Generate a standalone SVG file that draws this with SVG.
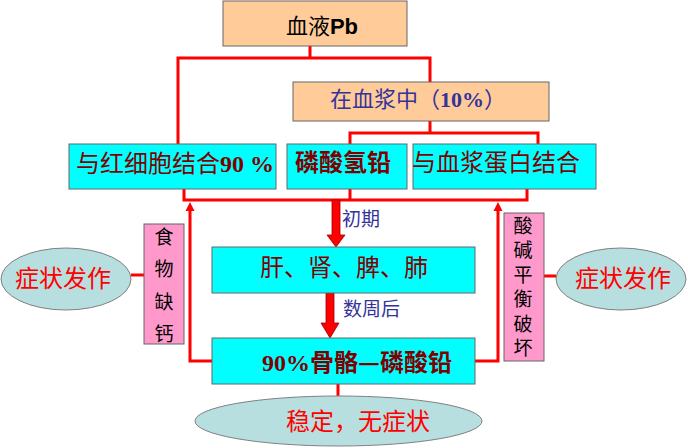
<svg xmlns="http://www.w3.org/2000/svg" width="688" height="448" viewBox="0 0 688 448">
<style>
.box{stroke:#666666;stroke-width:1}
.peach{fill:#FFCC99}
.cyan{fill:#00FFFF}
.pink{fill:#FF99CC}
.ell{fill:#B8DFE0;stroke:#808080;stroke-width:1}
.ln{fill:none;stroke:#FF0000;stroke-width:3}
.big{fill:#FF0000;stroke:#990000;stroke-width:0.8}
.cjk{font-family:"Noto Sans CJK SC","Noto Sans",sans-serif}
.num{font-family:"Liberation Serif","Noto Sans CJK SC",serif;font-weight:bold}
.dred{fill:#800000;font-size:24px}
.navy{fill:#333399}
.red{fill:#FF0000;font-size:24px}
.blk{fill:#000000}
.vert{writing-mode:vertical-rl;font-size:19px}
</style>
<defs>
<marker id="up" markerUnits="userSpaceOnUse" markerWidth="10" markerHeight="10" viewBox="0 0 10 10" refX="1" refY="5" orient="auto">
<path d="M0,0.5 L9,5 L0,9.5 z" fill="#FF0000"/>
</marker>
</defs>
<rect width="688" height="448" fill="#FFFFFF"/>
<g id="connectors">
<path class="ln" d="M310,46 V58 M178,144 V58 H430 V82"/>
<path class="ln" d="M430,121 V133 M350,144 V133 H538 V144"/>
<path class="ln" d="M184,189 V200 H527 V189 M350,189 V200"/>
<path class="ln" d="M212,361 H190 V210" marker-end="url(#up)"/>
<path class="ln" d="M475,361 H498 V210" marker-end="url(#up)"/>
<path class="ln" d="M338,384 V396"/>
<path class="ln" d="M131,275 H145"/>
<path class="ln" d="M544,276 H556"/>
<polygon class="big" points="332,200 340,200 340,235 345,235 336,247 327,235 332,235"/>
<polygon class="big" points="326,293 334,293 334,323 339,323 330,338 321,323 326,323"/>
<text class="cjk navy" x="342" y="226" font-size="19">初期</text>
<text class="cjk navy" x="343" y="316" font-size="19">数周后</text>
</g>
<g id="node-blood">
<rect class="box peach" x="223" y="1" width="184" height="45"/>
<text x="322" y="34" text-anchor="middle" font-size="22" class="blk"><tspan class="cjk">血液</tspan><tspan font-family="Liberation Sans, sans-serif" font-weight="bold">Pb</tspan></text>
</g>
<g id="node-plasma">
<rect class="box peach" x="293" y="82" width="256" height="39"/>
<text x="418" y="107" text-anchor="middle" font-size="22" class="navy"><tspan class="cjk">在血浆中（</tspan><tspan class="num">10%</tspan><tspan class="cjk">）</tspan></text>
</g>
<g id="node-rbc">
<rect class="box cyan" x="69" y="144" width="207" height="45"/>
<text x="175" y="172" text-anchor="middle" class="dred"><tspan class="cjk">与红细胞结合</tspan><tspan class="num">90 %</tspan></text>
</g>
<g id="node-phosphate">
<rect class="box cyan" x="287" y="144" width="120" height="45"/>
<text x="343" y="171" text-anchor="middle" class="cjk dred" font-weight="bold">磷酸氢铅</text>
</g>
<g id="node-protein">
<rect class="box cyan" x="413" y="144" width="183" height="45"/>
<text x="496" y="171" text-anchor="middle" class="cjk dred">与血浆蛋白结合</text>
</g>
<g id="node-organs">
<rect class="box cyan" x="212" y="247" width="263" height="46"/>
<text x="344" y="276" text-anchor="middle" class="cjk dred">肝、肾、脾、肺</text>
</g>
<g id="node-bone">
<rect class="box cyan" x="212" y="338" width="263" height="46"/>
<text x="357" y="371" text-anchor="middle" class="dred" font-weight="bold"><tspan class="num">90%</tspan><tspan class="cjk">骨骼—磷酸铅</tspan></text>
</g>
<g id="node-stable">
<ellipse class="ell" cx="338.5" cy="421" rx="143.5" ry="25"/>
<text x="358" y="430" text-anchor="middle" class="cjk red">稳定，无症状</text>
</g>
<g id="node-calcium">
<rect class="box pink" x="144" y="224" width="40" height="120"/>
<text class="cjk blk vert" x="164" y="227" letter-spacing="13.5">食物缺钙</text>
</g>
<g id="node-acidbase">
<rect class="box pink" x="504" y="213" width="40" height="148"/>
<text class="cjk blk vert" x="523" y="216" letter-spacing="5.5">酸碱平衡破坏</text>
</g>
<g id="node-symptom-left">
<ellipse class="ell" cx="66" cy="279" rx="65" ry="31"/>
<text x="63" y="287" text-anchor="middle" class="cjk red">症状发作</text>
</g>
<g id="node-symptom-right">
<ellipse class="ell" cx="621" cy="279" rx="65" ry="31"/>
<text x="623" y="287" text-anchor="middle" class="cjk red">症状发作</text>
</g>
</svg>
